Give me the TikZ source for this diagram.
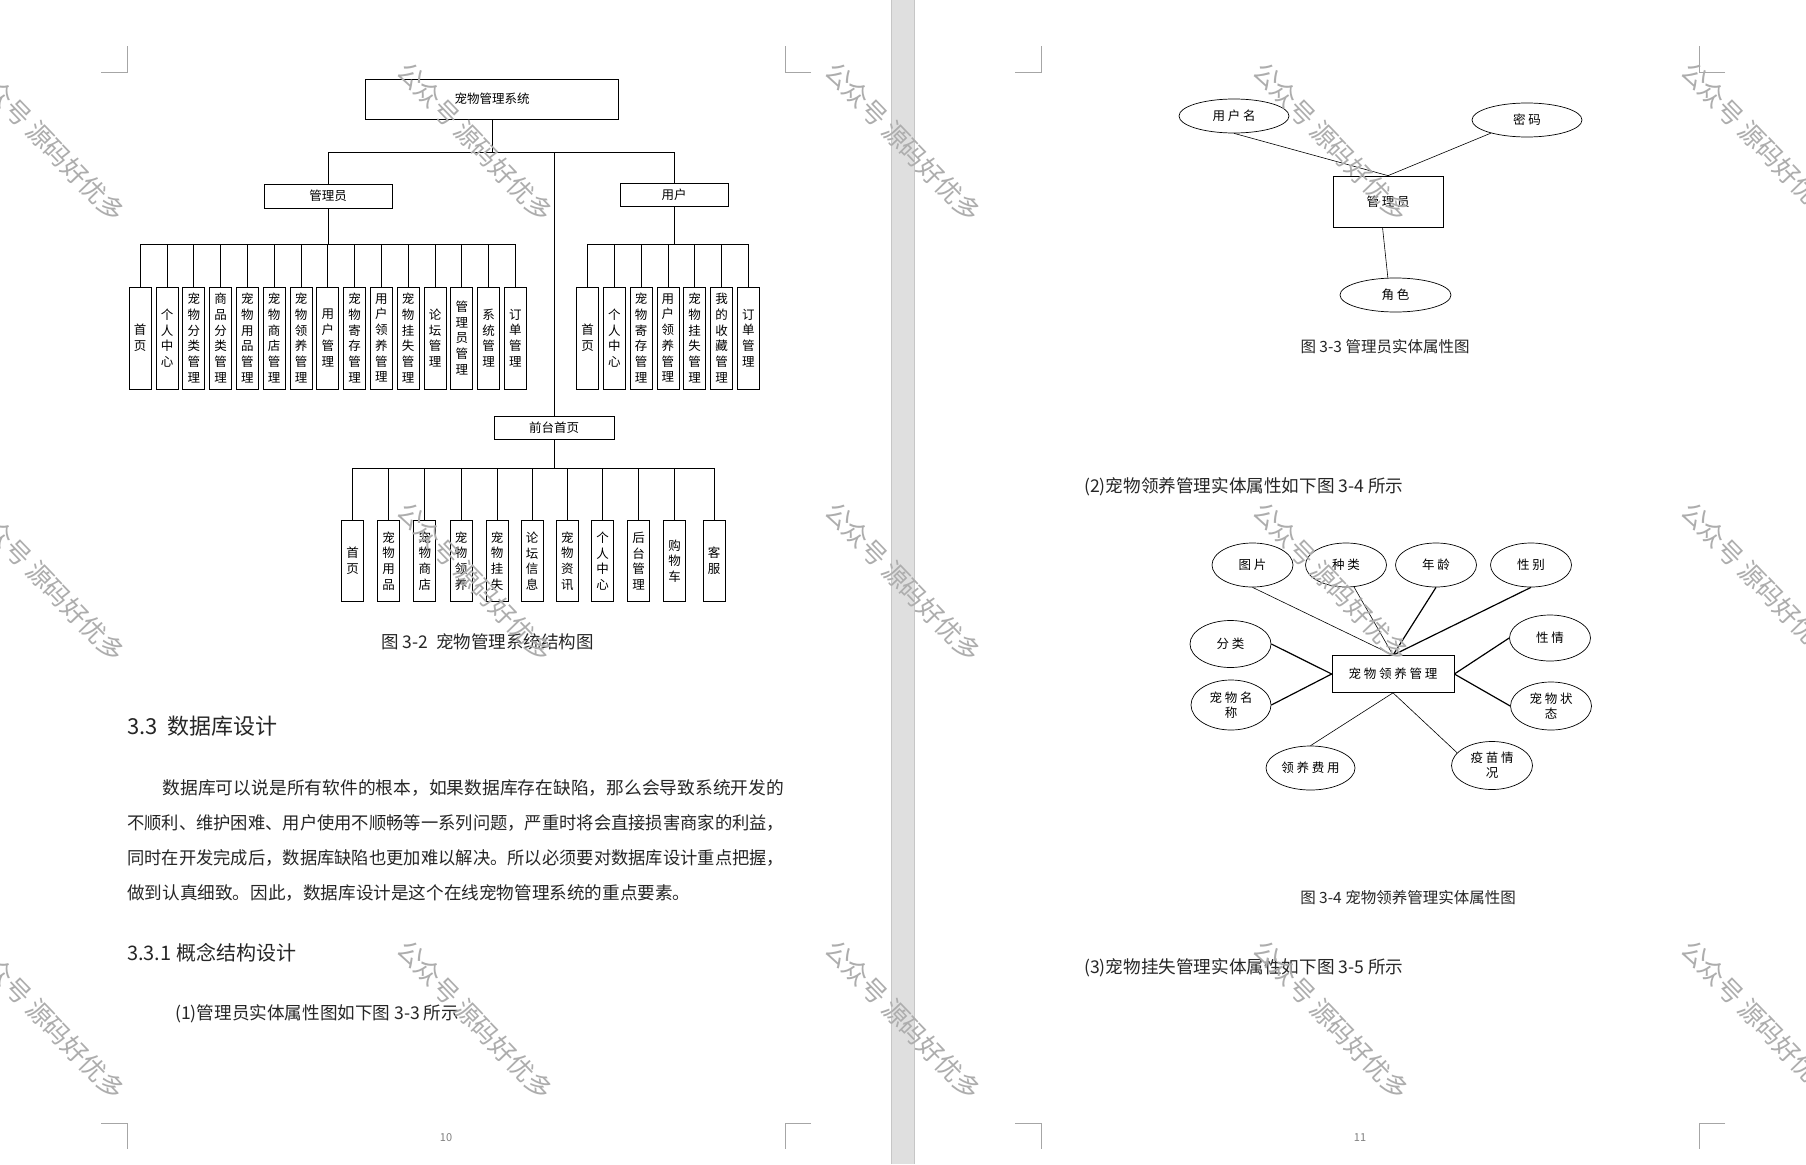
\documentclass[tikz,border=0pt]{standalone}
\usepackage{fontspec}
\usepackage{graphicx}
\setmainfont{Noto Sans CJK SC}
\newfontfamily\erfont{Noto Sans CJK SC}[LetterSpace=22]
\usetikzlibrary{
    positioning,
    shapes.geometric % for the ellipse attributes
}

\tikzset{
    orgbox/.style={draw, line width=0.8pt, inner sep=0pt, font=\fontsize{12.5}{15}\selectfont},
    leafbox/.style={orgbox, minimum width=22pt, align=center, font=\fontsize{12.5}{15.7}\selectfont},
    orglink/.style={line width=0.8pt},
    entity/.style={draw, line width=0.7pt, inner sep=0pt, align=center, font=\erfont\fontsize{12.5}{15}\selectfont},
    attr/.style={entity, ellipse},
    thin link/.style={line width=0.6pt},
    thick link/.style={line width=1.2pt},
    bodytext/.style={anchor=west, inner sep=0pt, text=black!85, font=\fontsize{17.6}{20}\selectfont},
    figcaption/.style={inner sep=0pt, text=black!85, font=\fontsize{15.5}{18}\selectfont},
    cropmark/.style={gray!70, line width=0.6pt},
    wmtext/.style={rotate=-46, inner sep=0pt, text=black!32, font=\fontsize{25.5}{26}\selectfont}
}

\begin{document}
\begin{tikzpicture}[x=1pt, y=-1pt]
    \useasboundingbox (0,0) rectangle (1806,1164);
    \fill[white] (0,0) rectangle (1806,1164);

    % gap between the two pages
    \fill[gray!25] (891,0) rectangle (914,1164);
    \draw[gray!45] (891,0) -- (891,1164) (914,0) -- (914,1164);

    % corner marks of both pages
    \foreach \cx/\sx in {127/-1, 785/1, 1041/-1, 1699/1} {
        \draw[cropmark] (\cx+\sx*26,72) -- (\cx,72) -- (\cx,46);
        \draw[cropmark] (\cx+\sx*26,1123) -- (\cx,1123) -- (\cx,1149);
    }

    % page 10: structure chart
    \node[orgbox, minimum width=253pt, minimum height=40pt] (root) at (492,99) {宠物管理系统};
    \node[orgbox, minimum width=128pt, minimum height=24pt] (admin) at (328,196) {管理员};
    \node[orgbox, minimum width=108pt, minimum height=23pt] (user) at (674,194.5) {用户};
    \node[orgbox, minimum width=120pt, minimum height=23pt] (front) at (554,427.5) {前台首页};

    \draw[orglink] (root.south) -- ++(0,33) -| (admin.north);
    \draw[orglink] (root.south) -- ++(0,33) -| (user.north);
    \draw[orglink] (root.south) -- ++(0,33) -| (front.north);

    \foreach \t [count=\i] in {首\\页, 个\\人\\中\\心, 宠\\物\\分\\类\\管\\理, 商\\品\\分\\类\\管\\理,
        宠\\物\\用\\品\\管\\理, 宠\\物\\商\\店\\管\\理, 宠\\物\\领\\养\\管\\理, 用\\户\\管\\理,
        宠\\物\\寄\\存\\管\\理, 用\\户\\领\\养\\管\\理, 宠\\物\\挂\\失\\管\\理, 论\\坛\\管\\理,
        管\\理\\员\\管\\理, 系\\统\\管\\理, 订\\单\\管\\理} {
        \node[leafbox, minimum height=102pt] (a\i) at ({140.2+(\i-1)*26.8},338) {\t};
        \draw[orglink] (admin.south) -- ++(0,35.7) -| (a\i.north);
    }

    \foreach \t [count=\i] in {首\\页, 个\\人\\中\\心, 宠\\物\\寄\\存\\管\\理, 用\\户\\领\\养\\管\\理,
        宠\\物\\挂\\失\\管\\理, 我\\的\\收\\藏\\管\\理, 订\\单\\管\\理} {
        \node[leafbox, minimum height=102pt] (u\i) at ({587.5+(\i-1)*26.8},338) {\t};
        \draw[orglink] (user.south) -- ++(0,37.7) -| (u\i.north);
    }

    \foreach \fx/\t [count=\i] in {352.5/首\\页, 388.7/宠\\物\\用\\品, 424.8/宠\\物\\商\\店,
        461/宠\\物\\领\\养, 497/宠\\物\\挂\\失, 532.2/论\\坛\\信\\息, 567.3/宠\\物\\资\\讯,
        602.5/个\\人\\中\\心, 638.5/后\\台\\管\\理, 674.5/购\\物\\车, 714.2/客\\服} {
        \node[leafbox, minimum height=81pt] (f\i) at (\fx,561) {\t};
        \draw[orglink] (front.south) -- ++(0,29.3) -| (f\i.north);
    }

    \node[figcaption, font=\fontsize{17.5}{20}\selectfont] (cap32) at (487.5,642) {图 3-2\ \ 宠物管理系统结构图};

    % page 10: text
    \node[bodytext, font=\fontsize{22}{25}\selectfont] (sec33) at (127,726) {3.3\ \ 数据库设计};
    \node[bodytext] (par1) at (127,788) {\resizebox{657pt}{\height}{\hspace*{2em}数据库可以说是所有软件的根本，如果数据库存在缺陷，那么会导致系统开发的}};
    \node[bodytext] (par2) at (127,823) {\resizebox{657pt}{\height}{不顺利、维护困难、用户使用不顺畅等一系列问题，严重时将会直接损害商家的利益，}};
    \node[bodytext] (par3) at (127,858) {\resizebox{657pt}{\height}{同时在开发完成后，数据库缺陷也更加难以解决。所以必须要对数据库设计重点把握，}};
    \node[bodytext] (par4) at (127,893) {做到认真细致。因此，数据库设计是这个在线宠物管理系统的重点要素。};
    \node[bodytext, font=\fontsize{20}{23}\selectfont] (sec331) at (127,953) {3.3.1 概念结构设计};
    \node[bodytext] (item1) at (175,1014) {(1)管理员实体属性图如下图 3-3 所示};
    \node[inner sep=0pt, text=gray, font=\fontsize{11}{12}\selectfont] (pg10) at (446,1138) {10};

    % page 11: administrator entity
    \node[entity, minimum width=110pt, minimum height=51pt] (mgr) at (1388,201.5) {管理员};
    \node[attr, minimum width=110pt, minimum height=34pt] (uname) at (1234,116) {用户名};
    \node[attr, minimum width=110pt, minimum height=34pt] (pwd) at (1527,120) {密码};
    \node[attr, minimum width=111pt, minimum height=34pt] (role) at (1395.5,295) {角色};
    \draw[thin link] (uname.south) -- (mgr.north);
    \draw[thin link] (pwd.200) -- (mgr.north);
    \draw[thin link] (mgr.258) -- (role.114);
    \node[figcaption] (cap33) at (1385,347) {图 3-3 管理员实体属性图};

    \node[bodytext] (item2) at (1084,487) {(2)宠物领养管理实体属性如下图 3-4 所示};

    % page 11: pet adoption entity
    \node[entity, minimum width=122pt, minimum height=37pt] (adopt) at (1393,674) {宠物领养管理};
    \node[attr, minimum width=81pt, minimum height=44pt] (pic) at (1252.5,565) {图片};
    \node[attr, minimum width=81pt, minimum height=44pt] (kind) at (1346,565) {种类};
    \node[attr, minimum width=81pt, minimum height=44pt] (age) at (1436,565) {年龄};
    \node[attr, minimum width=81pt, minimum height=44pt] (sex) at (1531,565) {性别};
    \node[attr, minimum width=81pt, minimum height=47pt] (cat) at (1230.5,644) {分类};
    \node[attr, minimum width=80pt, minimum height=50pt] (pname) at (1231,705) {宠物名\\称};
    \node[attr, minimum width=81pt, minimum height=46pt] (temper) at (1550,638) {性情};
    \node[attr, minimum width=81pt, minimum height=48pt] (status) at (1551,706) {宠物状\\态};
    \node[attr, minimum width=89pt, minimum height=44pt] (fee) at (1310.5,768) {领养费用};
    \node[attr, minimum width=81pt, minimum height=48pt] (vaccine) at (1492,765.5) {疫苗情\\况};

    \draw[thin link] (pic.south) -- (adopt.north);
    \draw[thin link] (kind.290) -- (adopt.north);
    \draw[thick link] (age.south) -- (adopt.north);
    \draw[thick link] (sex.south) -- (adopt.north);
    \draw[thick link] (cat.east) -- (adopt.west);
    \draw[thick link] (pname.east) -- (adopt.west);
    \draw[thick link] (temper.west) -- (adopt.east);
    \draw[thick link] (status.west) -- (adopt.east);
    \draw[thin link] (fee.north) -- (adopt.south);
    \draw[thin link] (vaccine.160) -- (adopt.south);

    \node[figcaption] (cap34) at (1408,898) {图 3-4 宠物领养管理实体属性图};
    \node[bodytext] (item3) at (1084,968) {(3)宠物挂失管理实体属性如下图 3-5 所示};
    \node[inner sep=0pt, text=gray, font=\fontsize{11}{12}\selectfont] (pg11) at (1360,1138) {11};

    % watermark
    \foreach \wx in {47,475,903,1331,1759}
        \foreach \wy in {142,582,1020}
            \node[wmtext] (wm\wx-\wy) at (\wx,\wy) {公众号 源码好优多};
\end{tikzpicture}
\end{document}
